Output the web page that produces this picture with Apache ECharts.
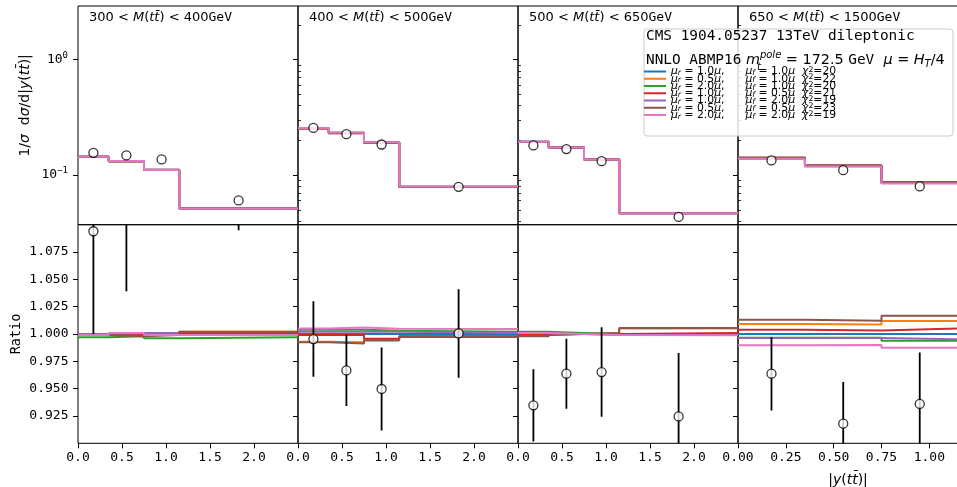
<!DOCTYPE html>
<html><head><meta charset="utf-8">
<script src="https://cdn.jsdelivr.net/npm/echarts@6/dist/echarts.min.js"></script>
<style>html,body{margin:0;padding:0;background:#fff}#c{width:957px;height:487px}</style>
</head><body><div id="c"></div>
<script>
// ---------------- data ----------------
const massLow = [300, 400, 500, 650];
const massHigh = [400, 500, 650, 1500];
const edgesWide = [0, 0.35, 0.75, 1.15, 2.5];
const edgesNarrow = [0, 0.35, 0.75, 1.15];
const centersWide = [0.175, 0.55, 0.95, 1.825];
const centersNarrow = [0.175, 0.55, 0.95];
const xTicksWide = [0, 0.5, 1.0, 1.5, 2.0];
const xTicksNarrow = [0, 0.25, 0.5, 0.75, 1.0];
const yTopMajor = [0.1, 1];
const yTopMinor = [0.04, 0.05, 0.06, 0.07, 0.08, 0.09, 0.2, 0.3, 0.4, 0.5, 0.6, 0.7, 0.8, 0.9, 2];
const ratioTicks = [0.925, 0.95, 0.975, 1.0, 1.025, 1.05, 1.075];

// central NNLO prediction, 1/sigma dsigma/d|y(tt)|
const theoryP1 = [0.144, 0.132, 0.111, 0.0515];
const theoryP2 = [0.255, 0.232, 0.1915, 0.0792];
const theoryP3 = [0.194, 0.1734, 0.1367, 0.0467];
const theoryP4 = [0.140, 0.120, 0.0858];

// CMS data
const dataP1 = [0.156, 0.148, 0.1367, 0.0604];
const dataP2 = [0.256, 0.226, 0.184, 0.0792];
const dataP3 = [0.1807, 0.168, 0.132, 0.0434];
const dataP4 = [0.134, 0.1104, 0.0798];

// data / central prediction and its uncertainty
const dataRatioP1 = [1.094, 1.12, 1.23, 1.17];
const dataErrP1 = [0.094, 0.081, 0.09, 0.075];
const dataRatioP2 = [0.9954, 0.9667, 0.9497, 1.0005];
const dataErrP2 = [0.0345, 0.0325, 0.038, 0.0405];
const dataRatioP3 = [0.9347, 0.9637, 0.9652, 0.9246];
const dataErrP3 = [0.033, 0.032, 0.041, 0.058];
const dataRatioP4 = [0.9637, 0.918, 0.936];
const dataErrP4 = [0.0336, 0.038, 0.047];

// scale variations
const muR = ['1.0', '0.5', '2.0', '1.0', '1.0', '0.5', '2.0'];
const muF = ['1.0', '1.0', '1.0', '0.5', '2.0', '0.5', '2.0'];
const chi2 = [20, 22, 20, 21, 19, 23, 19];

// variation / central prediction, per panel, per variation
const ratioP1 = [
  [1.000, 1.000, 1.000, 1.000],
  [0.999, 0.998, 1.000, 1.002],
  [0.997, 0.998, 0.996, 0.997],
  [1.000, 0.999, 0.999, 1.001],
  [1.000, 1.001, 1.001, 0.999],
  [0.999, 0.998, 0.999, 1.002],
  [0.999, 1.001, 0.999, 0.999]];
const ratioP2 = [
  [1.000, 1.000, 1.000, 1.000],
  [0.993, 0.9925, 0.995, 0.998],
  [1.004, 1.004, 1.003, 1.002],
  [0.999, 0.999, 0.9957, 0.998],
  [1.002, 1.002, 1.002, 1.001],
  [0.9925, 0.9914, 0.994, 0.9972],
  [1.005, 1.006, 1.0048, 1.0045]];
const ratioP3 = [
  [1.000, 1.000, 1.000, 1.000],
  [0.999, 1.000, 1.001, 1.005],
  [1.002, 1.001, 1.000, 1.000],
  [0.999, 1.000, 1.000, 1.001],
  [1.001, 1.000, 0.999, 0.999],
  [0.998, 1.000, 1.001, 1.0055],
  [1.001, 1.000, 0.999, 0.9988]];
const ratioP4 = [
  [1.000, 1.000, 1.000],
  [1.0091, 1.0088, 1.0119],
  [0.9965, 0.9965, 0.9939],
  [1.004, 1.0033, 1.0051],
  [0.9963, 0.9963, 0.9951],
  [1.0131, 1.0122, 1.0167],
  [0.9896, 0.9899, 0.9875]];

// ---------------- style / layout ----------------
const colors = ['#1f77b4', '#ff7f0e', '#2ca02c', '#d62728', '#9467bd', '#8c564b', '#e377c2'];
const panelLeft = [78, 298, 518, 738];
const panelW = 220;
const topY = 6, topH = 218.7, botY = 224.7, botH = 218.6;
const MONO = 'DejaVu Sans Mono', SANS = 'DejaVu Sans';

const panels = [
  {edges: edgesWide, centers: centersWide, xmax: 2.5, xticks: xTicksWide, dec: 1, theory: theoryP1, data: dataP1, dr: dataRatioP1, de: dataErrP1, ratio: ratioP1},
  {edges: edgesWide, centers: centersWide, xmax: 2.5, xticks: xTicksWide, dec: 1, theory: theoryP2, data: dataP2, dr: dataRatioP2, de: dataErrP2, ratio: ratioP2},
  {edges: edgesWide, centers: centersWide, xmax: 2.5, xticks: xTicksWide, dec: 1, theory: theoryP3, data: dataP3, dr: dataRatioP3, de: dataErrP3, ratio: ratioP3},
  {edges: edgesNarrow, centers: centersNarrow, xmax: 1.15, xticks: xTicksNarrow, dec: 2, theory: theoryP4, data: dataP4, dr: dataRatioP4, de: dataErrP4, ratio: ratioP4}
];

const seriesNames = muR.map((r, i) => 'μr=' + r + 'μ, μf=' + muF[i] + 'μ χ²=' + chi2[i]);

function stepData(edges, vals) {
  const pts = vals.map((v, i) => [edges[i], v]);
  pts.push([edges[vals.length], vals[vals.length - 1]]);
  return pts;
}

const grids = [], xAxes = [], yAxes = [], series = [];
panels.forEach((p, k) => {
  grids.push({left: panelLeft[k], top: topY, width: panelW, height: topH, show: true, borderColor: '#000', borderWidth: 1, backgroundColor: 'transparent', outerBoundsMode: 'none'});
});
panels.forEach((p, k) => {
  grids.push({left: panelLeft[k], top: botY, width: panelW, height: botH, show: true, borderColor: '#000', borderWidth: 1, backgroundColor: 'transparent', outerBoundsMode: 'none'});
});

// x axes: top 0..3, bottom 4..7
panels.forEach((p, k) => {
  xAxes.push({type: 'value', gridIndex: k, min: 0, max: p.xmax, axisLine: {show: false}, axisTick: {show: false}, axisLabel: {show: false}, splitLine: {show: false}});
});
panels.forEach((p, k) => {
  const ax = {type: 'value', gridIndex: 4 + k, min: 0, max: p.xmax,
    axisLine: {show: false},
    axisTick: {show: true, length: 5, lineStyle: {color: '#000', width: 1}, customValues: p.xticks},
    axisLabel: {show: true, customValues: p.xticks, formatter: v => v.toFixed(p.dec), fontFamily: MONO, fontSize: 13, color: '#000', margin: 8},
    splitLine: {show: false}};
  if (k === 3) {
    ax.name = '{b||}{i|y}{b|(}{i|tt\u0304}{b|)|}';
    ax.nameLocation = 'middle';
    ax.nameGap = 30;
    ax.nameTextStyle = {fontFamily: SANS, fontSize: 14, color: '#000', rich: {b: {fontFamily: SANS, fontSize: 14, color: '#000'}, i: {fontFamily: SANS, fontStyle: 'italic', fontSize: 14, color: '#000'}}};
  }
  xAxes.push(ax);
});

// y axes: top major 0..3, ratio 4..7, top minor 8..11
panels.forEach((p, k) => {
  const ax = {type: 'log', logBase: 10, gridIndex: k, min: 0.0372, max: 2.91,
    axisLine: {show: false},
    axisTick: {show: true, length: 5, lineStyle: {color: '#000', width: 1}, customValues: yTopMajor},
    axisLabel: {show: k === 0, customValues: yTopMajor, margin: 10,
      formatter: v => '{b|10}{s|' + (Math.round(Math.log10(v)) === 0 ? '0' : '\u22121') + '}',
      rich: {b: {fontFamily: MONO, fontSize: 13, color: '#000'}, s: {fontFamily: MONO, fontSize: 9, color: '#000', padding: [0, 0, 8, 0]}}},
    splitLine: {show: false}};
  if (k === 0) {
    ax.name = '{b|1/}{i|σ}{b|  d}{i|σ}{b|/d|}{i|y}{b|(}{i|tt\u0304}{b|)|}';
    ax.nameLocation = 'middle';
    ax.nameRotate = 90;
    ax.nameGap = 46;
    ax.nameTextStyle = {fontFamily: SANS, fontSize: 14, color: '#000', padding: [0, 0, 0, 20],
      rich: {b: {fontFamily: SANS, fontSize: 14, color: '#000'}, i: {fontFamily: SANS, fontStyle: 'italic', fontSize: 14, color: '#000'}}};
  }
  yAxes.push(ax);
});
panels.forEach((p, k) => {
  const ax = {type: 'value', gridIndex: 4 + k, min: 0.9, max: 1.1,
    axisLine: {show: false},
    axisTick: {show: true, length: 5, lineStyle: {color: '#000', width: 1}, customValues: ratioTicks},
    axisLabel: {show: k === 0, customValues: ratioTicks, formatter: v => v.toFixed(3), fontFamily: MONO, fontSize: 13, color: '#000', margin: 9.5},
    splitLine: {show: false}};
  if (k === 0) {
    ax.name = 'Ratio';
    ax.nameLocation = 'middle';
    ax.nameRotate = 90;
    ax.nameGap = 55;
    ax.nameTextStyle = {fontFamily: MONO, fontSize: 13.5, color: '#000'};
  }
  yAxes.push(ax);
});
panels.forEach((p, k) => {
  yAxes.push({type: 'log', logBase: 10, gridIndex: k, min: 0.0372, max: 2.91,
    axisLine: {show: false},
    axisTick: {show: true, length: 3, lineStyle: {color: '#000', width: 0.8}, customValues: yTopMinor},
    axisLabel: {show: false}, splitLine: {show: false}});
});

// series
panels.forEach((p, k) => {
  seriesNames.forEach((name, s) => {
    series.push({type: 'line', name: name, xAxisIndex: k, yAxisIndex: k, step: 'end', symbol: 'none', z: 2 + s * 0.01,
      color: colors[s], lineStyle: {width: 2, color: colors[s]},
      data: stepData(p.edges, p.theory.map((c, i) => c * p.ratio[s][i]))});
    series.push({type: 'line', name: name, xAxisIndex: 4 + k, yAxisIndex: 4 + k, step: 'end', symbol: 'none', z: 2 + s * 0.01,
      color: colors[s], lineStyle: {width: 2, color: colors[s]},
      data: stepData(p.edges, p.ratio[s])});
  });
  series.push({type: 'scatter', name: 'data', xAxisIndex: k, yAxisIndex: k, symbol: 'circle', symbolSize: 9, z: 5,
    itemStyle: {color: '#fff', borderColor: '#000', borderWidth: 1.3},
    data: p.centers.map((x, i) => [x, p.data[i]])});
  series.push({type: 'custom', name: 'dataerr', xAxisIndex: 4 + k, yAxisIndex: 4 + k, clip: true, z: 4,
    encode: {x: 0, y: [1, 2]},
    data: p.centers.map((x, i) => [x, p.dr[i] - p.de[i], p.dr[i] + p.de[i]]),
    renderItem: (params, api) => {
      const a = api.coord([api.value(0), api.value(1)]);
      const b = api.coord([api.value(0), api.value(2)]);
      return {type: 'line', shape: {x1: a[0], y1: a[1], x2: b[0], y2: b[1]}, style: {stroke: '#000', lineWidth: 1.8}};
    }});
  series.push({type: 'scatter', name: 'data', xAxisIndex: 4 + k, yAxisIndex: 4 + k, symbol: 'circle', symbolSize: 9, z: 5, clip: true,
    itemStyle: {color: '#fff', borderColor: '#000', borderWidth: 1.3},
    data: p.centers.map((x, i) => [x, p.dr[i]])});
});

// graphics: panel titles and legend frame/title
const TF = 14.4;
const graphics = [];
panels.forEach((p, k) => {
  graphics.push({type: 'text', x: panelLeft[k] + 11, y: 18, z: 50,
    style: {text: '{n|' + massLow[k] + ' < }{i|M}{n|(}{i|tt\u0304}{n|) < ' + massHigh[k] + '}{m|GeV}',
      verticalAlign: 'middle', fill: '#000',
      rich: {n: {fontFamily: SANS, fontSize: 13, fill: '#000'}, i: {fontFamily: SANS, fontStyle: 'italic', fontSize: 13, fill: '#000'}, m: {fontFamily: MONO, fontSize: 13, fill: '#000'}}}});
});
graphics.push({type: 'rect', z: 60, shape: {x: 644, y: 29, width: 309, height: 107, r: 3},
  style: {fill: 'rgba(255,255,255,0.85)', stroke: '#cccccc', lineWidth: 1}});
graphics.push({type: 'text', z: 61, x: 646, y: 36,
  style: {text: 'CMS 1904.05237 13TeV dileptonic', fontFamily: MONO, fontSize: TF, fill: '#000', verticalAlign: 'middle'}});
graphics.push({type: 'text', z: 61, x: 646, y: 60,
  style: {text: '{m|NNLO ABMP16}{i| m}{p|pole}{n| = 172.5 }{m|GeV}{n|  }{i|μ}{n| = }{i|H}{s|T}{n|/4}',
    verticalAlign: 'middle', fill: '#000',
    rich: {m: {fontFamily: MONO, fontSize: TF, fill: '#000'}, n: {fontFamily: SANS, fontSize: TF, fill: '#000'},
      i: {fontFamily: SANS, fontStyle: 'italic', fontSize: TF, fill: '#000'},
      p: {fontFamily: SANS, fontStyle: 'italic', fontSize: 10, fill: '#000', padding: [0, 0, 10, 0]},
      s: {fontFamily: SANS, fontStyle: 'italic', fontSize: 10, fill: '#000', padding: [8, 0, 0, 0]}}}});
graphics.push({type: 'text', z: 61, x: 757, y: 67,
  style: {text: 't', fontFamily: SANS, fontStyle: 'italic', fontSize: 10, fill: '#000', verticalAlign: 'middle'}});

const LF = 10.8, LH = 7.4;
const legendRich = {
  n: {fontFamily: SANS, fontSize: LF, lineHeight: LH, color: '#000'},
  i: {fontFamily: SANS, fontStyle: 'italic', fontSize: LF, lineHeight: LH, color: '#000'},
  g: {fontFamily: SANS, fontStyle: 'italic', fontSize: LF, lineHeight: LH, color: '#000', padding: [0, 0, 0, 21]},
  h: {fontFamily: SANS, fontStyle: 'italic', fontSize: LF, lineHeight: LH, color: '#000', padding: [0, 0, 0, 7]},
  s: {fontFamily: SANS, fontStyle: 'italic', fontSize: 7.8, lineHeight: LH - 3, padding: [3, 0, 0, 0], color: '#000'},
  p: {fontFamily: SANS, fontSize: 7.8, lineHeight: LH - 3, padding: [0, 0, 3, 0], color: '#000'}
};

const option = {
  animation: false,
  backgroundColor: '#fff',
  grid: grids, xAxis: xAxes, yAxis: yAxes, series: series,
  graphic: graphics,
  legend: {
    data: seriesNames, orient: 'vertical', left: 644, top: 66, padding: 0, itemGap: -3.75,
    itemWidth: 22, itemHeight: 2, icon: 'rect', z: 70, selectedMode: false,
    textStyle: {fontFamily: SANS, fontSize: LF, lineHeight: LH, color: '#000', rich: legendRich},
    formatter: name => {
      const s = seriesNames.indexOf(name);
      return '{i|μ}{s|r}{n| = ' + muR[s] + '}{i|μ}{n|,}{g|μ}{s|f}{n| = ' + muF[s] + '}{i|μ}{h|χ}{p|2}{n|=' + chi2[s] + '}';
    }
  }
};
const chart = echarts.init(document.getElementById('c'), null, {renderer: 'canvas'});
chart.setOption(option);
</script></body></html>
